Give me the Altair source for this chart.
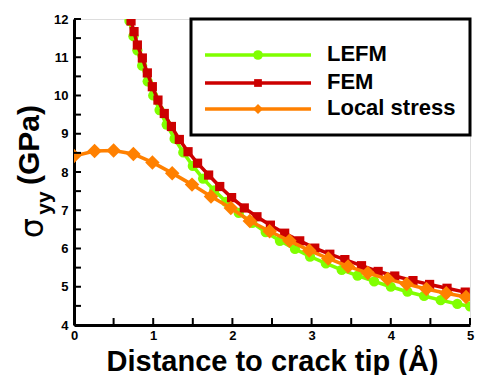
import altair as alt
import pandas as pd

# ---------------- data ----------------
lefm_x = [0.66, 0.70, 0.75, 0.80, 0.86, 0.93, 1.00, 1.08, 1.17, 1.27, 1.38, 1.50, 1.63,
          1.77, 1.92, 2.08, 2.25, 2.42, 2.60, 2.79, 2.98, 3.18, 3.38, 3.58, 3.79, 4.00,
          4.21, 4.42, 4.63, 4.84, 5.00]
lefm_y = [12.31, 11.95, 11.55, 11.18, 10.78, 10.37, 10.00, 9.62, 9.24, 8.87, 8.51, 8.16, 7.83,
          7.52, 7.22, 6.93, 6.67, 6.43, 6.20, 5.99, 5.79, 5.61, 5.44, 5.29, 5.14, 5.00,
          4.87, 4.76, 4.65, 4.55, 4.49]

fem_x = [0.68, 0.72, 0.758, 0.80, 0.863, 0.926, 0.989, 1.06, 1.14, 1.23, 1.33, 1.44, 1.56,
         1.70, 1.84, 1.99, 2.15, 2.31, 2.48, 2.66, 2.85, 3.04, 3.23, 3.42, 3.63, 3.84,
         4.05, 4.28, 4.49, 4.71, 4.94]
fem_y = [12.30, 11.95, 11.67, 11.32, 10.98, 10.59, 10.23, 9.88, 9.53, 9.19, 8.85, 8.53, 8.23,
         7.92, 7.62, 7.33, 7.06, 6.83, 6.61, 6.40, 6.20, 6.01, 5.85, 5.71, 5.55, 5.40,
         5.28, 5.16, 5.06, 4.96, 4.86]

local_x = [0.00, 0.26, 0.50, 0.75, 0.99, 1.24, 1.49, 1.73, 1.98, 2.22, 2.47, 2.72, 2.97,
           3.21, 3.46, 3.71, 3.96, 4.20, 4.45, 4.70, 4.95]
local_y = [8.42, 8.55, 8.56, 8.47, 8.25, 7.97, 7.67, 7.36, 7.06, 6.72, 6.45, 6.20, 5.95,
           5.74, 5.53, 5.36, 5.20, 5.07, 4.94, 4.83, 4.73]

series_names = ["LEFM", "FEM", "Local stress"]
series_x = [lefm_x, fem_x, local_x]
series_y = [lefm_y, fem_y, local_y]
colors = ["#80FF00", "#CC0000", "#FF8000"]
shapes = ["circle", "square", "diamond"]
marker_sizes = [105, 85, 210]
legend_sizes = [95, 60, 100]

x_ticks = [0, 1, 2, 3, 4, 5]
y_ticks = [4, 5, 6, 7, 8, 9, 10, 11, 12]
x_minor = [0.5 * i for i in range(11)]
y_minor = [4 + 0.5 * i for i in range(17)]

W, H = 396, 306
FONT = "Liberation Sans"

xscale = alt.Scale(domain=[0, 5], nice=False, zero=False)
yscale = alt.Scale(domain=[4, 12], nice=False, zero=False)

xaxis = alt.Axis(values=x_ticks, format="d", title="Distance to crack tip (Å)", grid=False,
                 ticks=False, domainColor="black", domainWidth=3, labelOverlap=False,
                 labelFont=FONT, labelFontWeight="bold", labelFontSize=13,
                 labelColor="black", labelFlush=False, labelPadding=4,
                 titleFont=FONT, titleFontWeight="bold", titleFontSize=29,
                 titleColor="black", titlePadding=5)
yaxis = alt.Axis(values=y_ticks, format="d", title=None, grid=False, ticks=False,
                 domainColor="black", domainWidth=3, labelOverlap=False,
                 labelFont=FONT, labelFontWeight="bold", labelFontSize=13,
                 labelColor="black", labelFlush=False, labelPadding=6)

layers = []
for name, xs, ys, col, shp, sz in zip(series_names, series_x, series_y, colors, shapes, marker_sizes):
    df = pd.DataFrame({"x": xs, "y": ys, "series": name})
    base = alt.Chart(df).encode(
        x=alt.X("x:Q", scale=xscale, axis=xaxis),
        y=alt.Y("y:Q", scale=yscale, axis=yaxis),
    )
    layers.append(base.mark_line(color=col, strokeWidth=3.5, clip=True))
    layers.append(base.mark_point(shape=shp, filled=True, color=col, size=sz, opacity=1, clip=True))

# inward ticks (every 0.5 on both axes)
ytick_df = pd.DataFrame({"v": y_minor})
xtick_df = pd.DataFrame({"v": x_minor})
layers.append(alt.Chart(ytick_df).mark_rule(color="black", strokeWidth=2).encode(
    y=alt.Y("v:Q", scale=yscale, axis=yaxis), x=alt.value(0), x2=alt.value(7)))
layers.append(alt.Chart(xtick_df).mark_rule(color="black", strokeWidth=2).encode(
    x=alt.X("v:Q", scale=xscale, axis=xaxis), y=alt.value(H), y2=alt.value(H - 7)))

# legend box
layers.append(alt.Chart(pd.DataFrame({"a": [0]})).mark_rect(
    fill="white", stroke="black", strokeWidth=3).encode(
    x=alt.value(117), x2=alt.value(396), y=alt.value(0), y2=alt.value(116)))
leg_y = [36, 64, 90]
for name, col, shp, ly, lsz in zip(series_names, colors, shapes, leg_y, legend_sizes):
    d = pd.DataFrame({"a": [0]})
    layers.append(alt.Chart(d).mark_rule(color=col, strokeWidth=3.5).encode(
        x=alt.value(131), x2=alt.value(237), y=alt.value(ly)))
    layers.append(alt.Chart(d).mark_point(shape=shp, filled=True, color=col, size=lsz, opacity=1).encode(
        x=alt.value(184), y=alt.value(ly)))
    layers.append(alt.Chart(d).mark_text(text=name, font=FONT, fontWeight="bold", fontSize=22,
                                         align="left", baseline="middle", color="black").encode(
        x=alt.value(253), y=alt.value(ly - 1)))

# y title: sigma_yy (GPa), rotated, reading bottom to top
d = pd.DataFrame({"a": [0]})
layers.append(alt.Chart(d).mark_text(text="(GPa)", font=FONT, fontWeight="bold", fontSize=30,
                                     angle=270, align="center", baseline="middle", color="black").encode(
    x=alt.value(-44), y=alt.value(126)))
layers.append(alt.Chart(d).mark_text(text="σ", font="DejaVu Sans", fontWeight="normal", fontSize=32,
                                     angle=270, align="center", baseline="middle", color="black").encode(
    x=alt.value(-41), y=alt.value(209)))
layers.append(alt.Chart(d).mark_text(text="yy", font=FONT, fontWeight="bold", fontSize=21,
                                     angle=270, align="center", baseline="middle", color="black").encode(
    x=alt.value(-29), y=alt.value(184)))

chart = alt.layer(*layers).properties(
    width=W, height=H,
    autosize=alt.AutoSizeParams(type="none"),
    padding={"left": 66, "top": 11, "right": 18, "bottom": 50},
).configure_view(stroke="black", strokeWidth=3).configure(background="white")

chart.save("out.html", embed_options={"renderer": "svg", "actions": False})
